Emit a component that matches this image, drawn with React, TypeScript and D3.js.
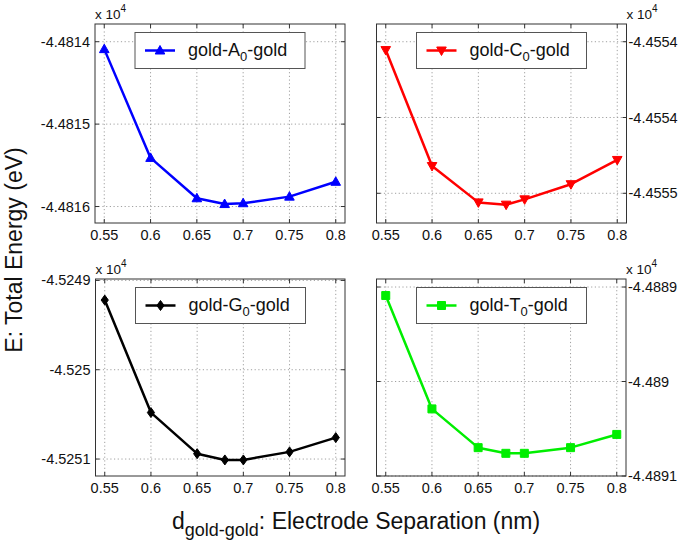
import React from "react";
import * as d3 from "d3";

// ---------- data ----------
const separations = [0.55, 0.6, 0.65, 0.68, 0.7, 0.75, 0.8];
const xTicks = [0.55, 0.6, 0.65, 0.7, 0.75, 0.8];
const xTickLabels = ["0.55", "0.6", "0.65", "0.7", "0.75", "0.8"];
const xDomain: [number, number] = [0.54, 0.81];

const energyA = [-44814.09, -44815.41, -44815.9, -44815.97, -44815.96, -44815.88, -44815.7];
const energyC = [-44554.055, -44554.82, -44555.06, -44555.075, -44555.04, -44554.94, -44554.78];
const energyG = [-45249.22, -45250.48, -45250.94, -45251.01, -45251.01, -45250.92, -45250.76];
const energyT = [-44889.09, -44890.29, -44890.7, -44890.76, -44890.76, -44890.7, -44890.56];

const yTicksA = [-44816, -44815, -44814];
const yTickLabelsA = ["-4.4816", "-4.4815", "-4.4814"];
const yTicksC = [-44555, -44554.5, -44554];
const yTickLabelsC = ["-4.4555", "-4.4554", "-4.4554"];
const yTicksG = [-45251, -45250, -45249];
const yTickLabelsG = ["-4.5251", "-4.525", "-4.5249"];
const yTicksT = [-44891, -44890, -44889];
const yTickLabelsT = ["-4.4891", "-4.489", "-4.4889"];

const yDomainA: [number, number] = [-44816.2, -44813.785];
const yDomainC: [number, number] = [-44555.196, -44553.883];
const yDomainG: [number, number] = [-45251.19, -45248.984];
const yDomainT: [number, number] = [-44891.0, -44888.915];

const legendLetters = ["A", "C", "G", "T"];
const seriesColors = ["#0000ff", "#ff0000", "#000000", "#00ee00"];
const markerKinds = ["up", "down", "diamond", "square"];

// ---------- layout ----------
const W = 685;
const H = 541;
const FONT = "'Liberation Sans', Arial, Helvetica, sans-serif";

const panelBoxes = [
  { x0: 95, x1: 345, y0: 24, y1: 223, side: "left" },
  { x0: 376.5, x1: 626.5, y0: 24, y1: 223, side: "right" },
  { x0: 95.5, x1: 345, y0: 279, y1: 476, side: "left" },
  { x0: 376.5, x1: 626, y0: 279, y1: 476, side: "right" },
];

const panels = [
  { values: energyA, ticks: yTicksA, labels: yTickLabelsA, domain: yDomainA },
  { values: energyC, ticks: yTicksC, labels: yTickLabelsC, domain: yDomainC },
  { values: energyG, ticks: yTicksG, labels: yTickLabelsG, domain: yDomainG },
  { values: energyT, ticks: yTicksT, labels: yTickLabelsT, domain: yDomainT },
];

function markerPath(kind: string, x: number, y: number): string {
  if (kind === "up") {
    return `M${x},${y - 5}L${x + 4.8},${y + 3.5}L${x - 4.8},${y + 3.5}Z`;
  }
  if (kind === "down") {
    return `M${x},${y + 5}L${x + 4.8},${y - 3.5}L${x - 4.8},${y - 3.5}Z`;
  }
  if (kind === "diamond") {
    return `M${x},${y - 5}L${x + 3.6},${y}L${x},${y + 5}L${x - 3.6},${y}Z`;
  }
  return `M${x - 4},${y - 4}L${x + 4},${y - 4}L${x + 4},${y + 4}L${x - 4},${y + 4}Z`;
}

function Panel({ idx }: { idx: number }) {
  const box = panelBoxes[idx];
  const p = panels[idx];
  const color = seriesColors[idx];
  const kind = markerKinds[idx];
  const x = d3.scaleLinear().domain(xDomain).range([box.x0, box.x1]);
  const y = d3.scaleLinear().domain(p.domain).range([box.y1, box.y0]);
  const pts: [number, number][] = separations.map((s, i) => [x(s), y(p.values[i])]);
  const line = d3.line<[number, number]>()(pts) || "";
  const axisColor = "#333";
  const gridColor = "#a0a0a0";
  const tl = 4;

  const legX = box.x0 + 40;
  const legY = box.y0 + 8.5;
  const legW = 170;
  const legH = 36;
  const legCY = legY + legH / 2;

  return (
    <g>
      <rect x={box.x0} y={box.y0} width={box.x1 - box.x0} height={box.y1 - box.y0} fill="#fff" />
      {/* grid */}
      {xTicks.map((t, i) => (
        <line key={"gx" + i} x1={x(t)} x2={x(t)} y1={box.y0} y2={box.y1} stroke={gridColor} strokeWidth={1} strokeDasharray="1.2,2.5" />
      ))}
      {p.ticks.map((t, i) => (
        <line key={"gy" + i} x1={box.x0} x2={box.x1} y1={y(t)} y2={y(t)} stroke={gridColor} strokeWidth={1} strokeDasharray="1.2,2.5" />
      ))}
      {/* ticks */}
      {xTicks.map((t, i) => (
        <g key={"tx" + i}>
          <line x1={x(t)} x2={x(t)} y1={box.y1} y2={box.y1 - tl} stroke={axisColor} />
          <line x1={x(t)} x2={x(t)} y1={box.y0} y2={box.y0 + tl} stroke={axisColor} />
          <text x={x(t)} y={box.y1 + 17} textAnchor="middle" fontSize={14.5} fill="#111">
            {xTickLabels[i]}
          </text>
        </g>
      ))}
      {p.ticks.map((t, i) => (
        <g key={"ty" + i}>
          <line x1={box.x0} x2={box.x0 + tl} y1={y(t)} y2={y(t)} stroke={axisColor} />
          <line x1={box.x1} x2={box.x1 - tl} y1={y(t)} y2={y(t)} stroke={axisColor} />
          <text
            x={box.side === "left" ? box.x0 - 5 : box.x1 + 2}
            y={y(t) + 5}
            textAnchor={box.side === "left" ? "end" : "start"}
            fontSize={14.5}
            fill="#111"
          >
            {p.labels[i]}
          </text>
        </g>
      ))}
      {/* exponent */}
      <text x={box.side === "left" ? box.x0 : box.x1} y={box.y0 - 5} fontSize={13.5} fill="#111">
        x 10
        <tspan dy={-7} fontSize={10}>4</tspan>
      </text>
      {/* series */}
      <path d={line} fill="none" stroke={color} strokeWidth={2.5} strokeLinejoin="round" />
      {pts.map((pt, i) => (
        <path key={"m" + i} d={markerPath(kind, pt[0], pt[1])} fill={color} stroke={color} strokeWidth={1} />
      ))}
      {/* legend */}
      <rect x={legX} y={legY} width={legW} height={legH} fill="#fff" stroke="#555" strokeWidth={1} />
      <line x1={legX + 10} x2={legX + 40} y1={legCY} y2={legCY} stroke={color} strokeWidth={2.5} />
      <path d={markerPath(kind, legX + 25, legCY)} fill={color} stroke={color} />
      <text x={legX + 53} y={legCY + 5} fontSize={18} fill="#111">
        gold-{legendLetters[idx]}
        <tspan dy={5} fontSize={13}>0</tspan>
        <tspan dy={-5}>-gold</tspan>
      </text>
      {/* box */}
      <rect x={box.x0} y={box.y0} width={box.x1 - box.x0} height={box.y1 - box.y0} fill="none" stroke={axisColor} strokeWidth={1} />
    </g>
  );
}

export default function App() {
  return (
    <svg
      width={W}
      height={H}
      style={{ position: "absolute", left: 0, top: 0, background: "#fff" }}
      fontFamily={FONT}
    >
      <rect x={0} y={0} width={W} height={H} fill="#fff" />
      {panelBoxes.map((_, i) => (
        <Panel key={i} idx={i} />
      ))}
      <text transform="translate(22,250) rotate(-90)" textAnchor="middle" fontSize={23} fill="#111">
        E: Total Energy (eV)
      </text>
      <text x={172} y={529} fontSize={23} fill="#111">
        d
        <tspan dy={7} fontSize={18}>gold-gold</tspan>
        <tspan dy={-7}>: Electrode Separation (nm)</tspan>
      </text>
    </svg>
  );
}
